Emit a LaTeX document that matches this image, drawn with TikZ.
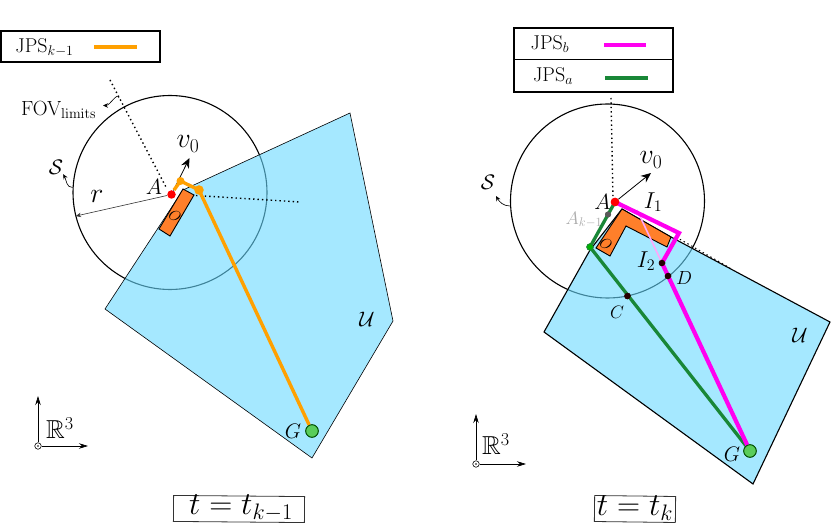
\documentclass[tikz,border=0pt]{standalone}
\usepackage{fix-cm}
\usepackage{amssymb}
\usetikzlibrary{arrows.meta}
\definecolor{freeblue}{RGB}{105,218,255}
\definecolor{obst}{RGB}{255,127,42}
\definecolor{jpsorange}{RGB}{255,160,0}
\definecolor{jpsgreen}{RGB}{25,135,55}
\definecolor{jpsmag}{RGB}{255,0,240}
\definecolor{goalgreen}{RGB}{90,205,90}
\newcommand\fs[1]{\fontsize{#1}{#1}\selectfont}
\tikzset{
  lbl/.style={inner sep=0pt,outer sep=0pt,text=black},
  sphere/.style={circle,draw=black,line width=1.1pt,minimum size=194pt,inner sep=0pt,outer sep=0pt},
  freepoly/.style={fill=freeblue,fill opacity=.6,draw=black},
  obstacle/.style={fill=obst,draw=black,line width=.9pt},
  fovdots/.style={line width=1.4pt,dash pattern=on 1.4pt off 3pt},
  dotpt/.style={circle,fill=black!85!red,inner sep=0pt,minimum size=6.5pt},
  redpt/.style={circle,fill=red,inner sep=0pt,minimum size=8.5pt},
  goal/.style={circle,draw=black!70!green,fill=goalgreen,line width=.8pt,inner sep=0pt,minimum size=12.5pt},
  tiparrow/.style={-{Stealth[length=10pt,width=8.5pt]},line width=.8pt},
  smallarrow/.style={-{Stealth[length=5pt,width=4.5pt]},line width=.6pt},
  axis/.style={-{Stealth[length=9pt,width=5.5pt]},line width=.7pt},
  legendbox/.style={draw=black,line width=1.2pt},
  timebox/.style={draw=black!80,line width=.8pt,inner sep=0pt,outer sep=0pt},
  origin/.style={circle,draw=black,line width=.6pt,fill=white,inner sep=0pt,minimum size=6.5pt},
}
\begin{document}
\begin{tikzpicture}[x=1pt,y=-1pt]
\useasboundingbox (0,0) rectangle (831,524);
\fill[white] (0,0) rectangle (831,524);

%%%%% LEFT PANEL
\node[sphere] (S1) at (170,192.5) {};
\coordinate (P1a) at (350,113);
\coordinate (P1b) at (393,321);
\coordinate (P1c) at (312,458);
\coordinate (P1d) at (105,309);
\coordinate (P1e) at (183,190);
\path[freepoly,line width=.6pt] (P1a)--(P1b)--(P1c)--(P1d)--(P1e)--cycle;
\draw[obstacle] (183,189)--(194,195)--(170,236)--(159,229)--cycle;
\node[lbl,rotate=-30] at (175,215.5) {\fs{15}$O$};
% FOV limits
\coordinate (F1a) at (110,80);
\coordinate (F1b) at (167,189);
\coordinate (F1c) at (196,195.5);
\coordinate (F1d) at (300,202);
\draw[fovdots] (F1a)--(F1b);
\draw[fovdots] (F1c)--(F1d);
% A, r, v0
\node[redpt] (A1) at (171.5,194.5) {};
\coordinate (Rr) at (76,216);
\draw[smallarrow,black!80] (A1)--(Rr);
\coordinate (V1) at (189.5,158);
\draw[tiparrow] (A1)--(V1);
\node[lbl] at (188,144) {\fs{28}$v_0$};
\node[lbl] at (154,187) {\fs{22}$A$};
\node[lbl] at (97,196) {\fs{28}$r$};
% JPS
\node[circle,fill=jpsorange,inner sep=0pt,minimum size=8pt] (J1a) at (180.5,181) {};
\node[circle,fill=jpsorange,inner sep=0pt,minimum size=9.5pt] (J1b) at (199,190) {};
\node[goal] (G1) at (312,431) {};
\draw[jpsorange,line width=3.4pt] (174,190)--(J1a.center)--(J1b.center)--(G1);
\node[goal] at (312,431) {};
\node[lbl] at (293,431) {\fs{21}$G$};
\node[lbl] at (367,319) {\fs{21}$\mathcal{U}$};
\node[lbl] (SL1) at (56,167) {\fs{21}$\mathcal{S}$};
\coordinate (S1p) at (72.5,187.5);
\draw[smallarrow] (S1p) to[out=180,in=-60] (SL1.south east);
\node[lbl,anchor=west] (FL) at (21,110) {\fs{20.5}FOV$_{\mathrm{limits}}$};
\coordinate (FLa) at (119,98);
\coordinate (FLb) at (103,105.5);
\draw[smallarrow] (FLa) to[out=100,in=0] (FLb);
% legend
\node[legendbox,minimum width=159pt,minimum height=31pt,inner sep=0pt] (L1) at (80.5,46.5) {};
\node[lbl] at (44.5,47.5) {\fs{20}JPS$_{k-1}$};
\coordinate (L1a) at (94,47);
\coordinate (L1b) at (137,47);
\draw[jpsorange,line width=3.5pt] (L1a)--(L1b);
% axes
\node[origin] (O1) at (38,446) {};
\coordinate (O1u) at (38,396);
\coordinate (O1r) at (88,446);
\draw[axis] (O1)--(O1u);
\draw[axis] (O1)--(O1r);
\fill (O1) circle (.8pt);
\node[lbl] at (60,428) {\fs{26}$\mathbb{R}^3$};
% time
\node[timebox,rotate=-.5,minimum width=131pt,minimum height=26pt] (T1) at (239,509) {};
\node[lbl] at (241,508) {\fs{32}$t=t_{k-1}$};

%%%%% RIGHT PANEL
\node[sphere] (S2) at (607.5,201) {};
\coordinate (P2a) at (544,332);
\coordinate (P2b) at (753,484);
\coordinate (P2c) at (830,322);
\coordinate (P2d) at (671,237);
\coordinate (P2e) at (622,209);
\coordinate (P2f) at (590,250);
\path[freepoly,line width=1.1pt] (P2a)--(P2b)--(P2c)--(P2d)--(P2e)--(P2f)--cycle;
\draw[obstacle] (622,209)--(671,237)--(667,247)--(626,226)--(610,256)--(596,248)--cycle;
\node[lbl,rotate=-30] at (606,244) {\fs{15}$O$};
% FOV
\coordinate (F2a) at (611,98);
\coordinate (F2b) at (613,198);
\coordinate (F2c) at (676,237);
\coordinate (F2d) at (730,268);
\draw[fovdots] (F2a)--(F2b);
\draw[fovdots,line width=1pt] (F2c)--(F2d);
% jps
\node[goal] (G2) at (750,451) {};
\node[redpt] (A2) at (615,202) {};
\coordinate (J2i) at (679,233);
\node[dotpt] (I2) at (662,263) {};
\node[dotpt] (D2) at (668,276) {};
\node[dotpt] (C2) at (627.5,296) {};
\node[circle,fill=gray!70!black,inner sep=0pt,minimum size=6pt] (Ak) at (608,214.5) {};
\node[circle,draw=jpsgreen,fill=green!70!black,line width=.7pt,inner sep=0pt,minimum size=6.5pt] (J2g) at (590,247) {};
\coordinate (I1) at (637,210);
\draw[jpsmag!35,line width=1.6pt] (I1)--(I2.center);
\node[lbl,text=gray!65] at (584,220) {\fs{18}$A_{k-1}$};
\draw[jpsgreen,line width=3.3pt] (A2.center)--(J2g.center)--(G2);
\draw[jpsmag,line width=4.2pt] (A2.center)--(J2i)--(I2.center)--(G2);
\node[redpt] at (615,202) {};
\node[dotpt] at (662,263) {};
\node[dotpt] at (668,276) {};
\node[dotpt] at (627.5,296) {};
\node[circle,draw=jpsgreen,fill=green!70!black,line width=.7pt,inner sep=0pt,minimum size=6.5pt] at (590,247) {};
\node[circle,fill=gray!70!black,inner sep=0pt,minimum size=6pt] at (608,214.5) {};
\node[goal] at (750,451) {};
\coordinate (V2) at (651,173);
\draw[tiparrow] (A2)--(V2);
\node[lbl] at (651,160) {\fs{28}$v_0$};
\node[lbl] at (602.5,202) {\fs{22}$A$};
\node[lbl] at (653,202) {\fs{23}$I_1$};
\node[lbl] at (646,261) {\fs{23}$I_2$};
\node[lbl] at (684,278) {\fs{19}$D$};
\node[lbl] at (617,312) {\fs{18}$C$};
\node[lbl] at (732,454) {\fs{21}$G$};
\node[lbl] at (800,335) {\fs{21}$\mathcal{U}$};
\node[lbl] (SL2) at (488,182) {\fs{21}$\mathcal{S}$};
\coordinate (S2p) at (510,206);
\draw[smallarrow] (S2p) to[out=180,in=-60] (496,196);
% legend
\node[legendbox,minimum width=159pt,minimum height=64pt,inner sep=0pt] (L2) at (593.5,60) {};
\coordinate (L2l) at (514,60);
\coordinate (L2r) at (673,60);
\draw[line width=1pt] (L2l)--(L2r);
\node[lbl] at (550,44) {\fs{20}JPS$_b$};
\node[lbl] at (553,76) {\fs{20}JPS$_a$};
\coordinate (L2a) at (604,45);
\coordinate (L2b) at (646,45);
\coordinate (L2c) at (605,78);
\coordinate (L2d) at (648,78);
\draw[jpsmag,line width=3.5pt] (L2a)--(L2b);
\draw[jpsgreen,line width=3.5pt] (L2c)--(L2d);
% axes
\node[origin] (O2) at (476,464) {};
\coordinate (O2u) at (476,414);
\coordinate (O2r) at (526,464);
\draw[axis] (O2)--(O2u);
\draw[axis] (O2)--(O2r);
\fill (O2) circle (.8pt);
\node[lbl] at (496,444) {\fs{26}$\mathbb{R}^3$};
% time
\node[timebox,rotate=-.7,minimum width=81pt,minimum height=26pt] (T2) at (635,509) {};
\node[lbl] at (635,508) {\fs{32}$t=t_k$};
\end{tikzpicture}
\end{document}
